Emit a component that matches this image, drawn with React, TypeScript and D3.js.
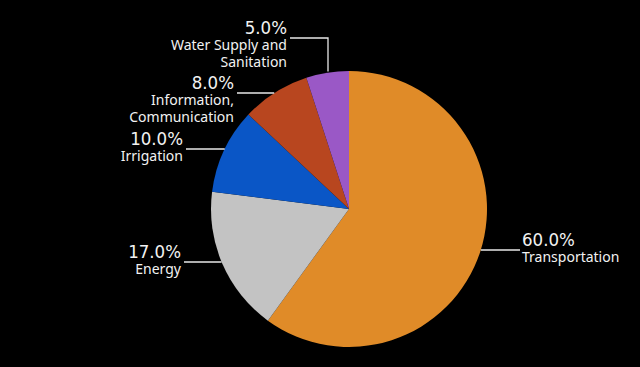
import React from "react";
import * as d3 from "d3";

const categories = ["Transportation", "Energy", "Irrigation", "Information, Communication", "Water Supply and Sanitation"];
const values = [60, 17, 10, 8, 5];
const colors = ["#E08B28", "#C3C3C3", "#0A56C6", "#B8461F", "#9A58C6"];
const nameLines = [["Transportation"], ["Energy"], ["Irrigation"], ["Information,", "Communication"], ["Water Supply and", "Sanitation"]];

// label layout: line y, outer x of line, side
const labelLayout = [
  { y: 250, x: 520, side: "right" },
  { y: 262, x: 184, side: "left" },
  { y: 149, x: 186, side: "left" },
  { y: 93, x: 237, side: "left" },
  { y: 38, x: 290, side: "left", vx: 328 },
];

const W = 640, H = 367;
const cx = 349, cy = 209, R = 138;
const PCT_FONT = "'DejaVu Sans Condensed', 'DejaVu Sans', sans-serif";
const NAME_FONT = "'Noto Sans', 'DejaVu Sans', sans-serif";

export default function App() {
  const pie = d3.pie<number>().sort(null).value((d) => d)(values);
  const arc = d3.arc<d3.PieArcDatum<number>>().innerRadius(0).outerRadius(R);
  const total = d3.sum(values);
  return (
    <svg width={W} height={H} style={{ position: "absolute", left: 0, top: 0, background: "#000" }}>
      <rect x={0} y={0} width={W} height={H} fill="#000" />
      <g transform={`translate(${cx},${cy})`}>
        {pie.map((p, i) => (
          <path key={i} d={arc(p) || ""} fill={colors[i]} />
        ))}
      </g>
      {labelLayout.map((l, i) => {
        const pct = ((values[i] / total) * 100).toFixed(1) + "%";
        let path: string;
        if (l.vx !== undefined) {
          const dx = l.vx - cx;
          const edgeY = cy - Math.sqrt(R * R - dx * dx) - 1;
          path = `M${l.x},${l.y}H${l.vx}V${edgeY}`;
        } else {
          const dy = l.y - cy;
          const half = Math.sqrt(R * R - dy * dy);
          const edgeX = l.side === "left" ? cx - half : cx + half;
          path = `M${l.x},${l.y}H${edgeX}`;
        }
        const anchor = l.side === "left" ? "end" : "start";
        const tx = l.side === "left" ? l.x - 3 : l.x + 2;
        return (
          <g key={i}>
            <path d={path} stroke="#e8e8e8" strokeWidth={1.3} fill="none" />
            <text x={tx} y={l.y - 4.5} textAnchor={anchor} fill="#f2f2f2" fontSize={18.5} fontFamily={PCT_FONT}>
              {pct}
            </text>
            {nameLines[i].map((s, j) => (
              <text key={j} x={tx} y={l.y + 11.5 + j * 17} textAnchor={anchor} fill="#f2f2f2" fontSize={14} fontFamily={NAME_FONT}>
                {s}
              </text>
            ))}
          </g>
        );
      })}
    </svg>
  );
}
